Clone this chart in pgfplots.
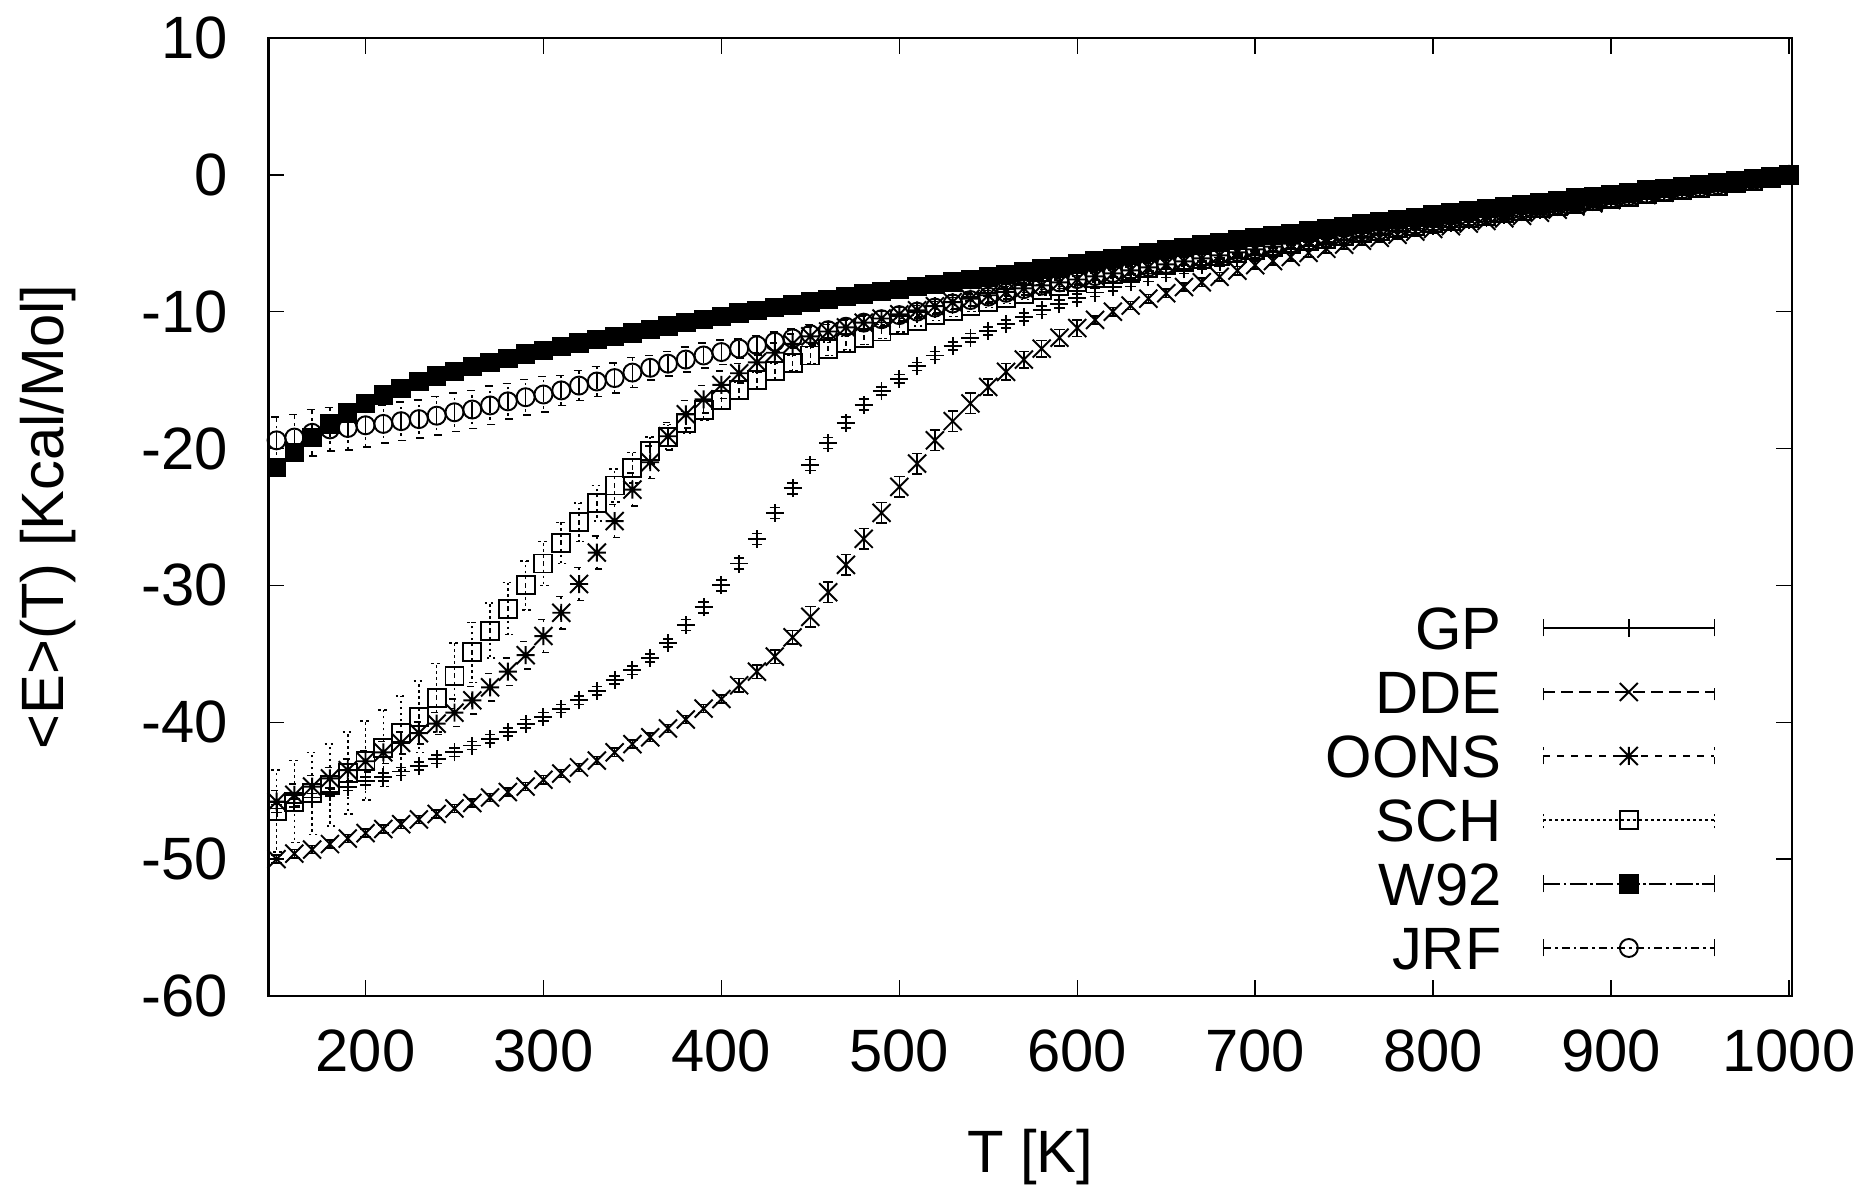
\documentclass[border=0pt]{standalone}
\usepackage{fontspec}
\setmainfont{Liberation Sans}
\usepackage{pgfplots}
\usepackage{pgfplotstable}
\pgfplotsset{compat=1.18}
\usetikzlibrary{calc}
\newcommand\fs{\fontsize{17}{20}\selectfont}
\pgfdeclareplotmark{gplus}{%
  \pgfpathmoveto{\pgfqpoint{-\pgfplotmarksize}{0pt}}\pgfpathlineto{\pgfqpoint{\pgfplotmarksize}{0pt}}%
  \pgfpathmoveto{\pgfqpoint{0pt}{-\pgfplotmarksize}}\pgfpathlineto{\pgfqpoint{0pt}{\pgfplotmarksize}}%
  \pgfusepathqstroke}
\pgfdeclareplotmark{gcross}{%
  \pgfpathmoveto{\pgfqpoint{-\pgfplotmarksize}{-\pgfplotmarksize}}\pgfpathlineto{\pgfqpoint{\pgfplotmarksize}{\pgfplotmarksize}}%
  \pgfpathmoveto{\pgfqpoint{-\pgfplotmarksize}{\pgfplotmarksize}}\pgfpathlineto{\pgfqpoint{\pgfplotmarksize}{-\pgfplotmarksize}}%
  \pgfusepathqstroke}
\pgfdeclareplotmark{gstar}{%
  \pgfpathmoveto{\pgfqpoint{-\pgfplotmarksize}{0pt}}\pgfpathlineto{\pgfqpoint{\pgfplotmarksize}{0pt}}%
  \pgfpathmoveto{\pgfqpoint{0pt}{-\pgfplotmarksize}}\pgfpathlineto{\pgfqpoint{0pt}{\pgfplotmarksize}}%
  \pgfpathmoveto{\pgfqpoint{-\pgfplotmarksize}{-\pgfplotmarksize}}\pgfpathlineto{\pgfqpoint{\pgfplotmarksize}{\pgfplotmarksize}}%
  \pgfpathmoveto{\pgfqpoint{-\pgfplotmarksize}{\pgfplotmarksize}}\pgfpathlineto{\pgfqpoint{\pgfplotmarksize}{-\pgfplotmarksize}}%
  \pgfusepathqstroke}

\pgfplotsset{
  gleg/.style 2 args={legend image code/.code={
    \draw[line width=0.4pt, #1] (0mm,0mm) -- (17.1mm,0mm);
    \draw[line width=0.4pt, #2] (0mm,-0.85mm) -- (0mm,0.85mm) (17.1mm,-0.85mm) -- (17.1mm,0.85mm);
    \draw[##1] plot coordinates {(8.55mm,0mm)};}},
  gser/.style 2 args={black, only marks, mark size=0.9mm, mark options={solid, line width=0.55pt},
    error bars/y dir=both, error bars/y explicit, error bars/error mark=-,
    error bars/error bar style={line width=0.45pt, #1},
    error bars/error mark options={rotate=90, mark size=0.52mm, line width=0.45pt, #2}},
}

\pgfplotstableread{
T E err
150 -46.3 0.3
160 -45.9 0.3
170 -45.5 0.3
180 -45.1 0.3
190 -44.7 0.3
200 -44.3 0.3
210 -44.0 0.3
220 -43.6 0.3
230 -43.2 0.3
240 -42.7 0.3
250 -42.2 0.3
260 -41.7 0.3
270 -41.2 0.3
280 -40.7 0.3
290 -40.1 0.3
300 -39.6 0.3
310 -39.0 0.3
320 -38.4 0.3
330 -37.7 0.3
340 -36.9 0.3
350 -36.2 0.3
360 -35.3 0.3
370 -34.2 0.3
380 -32.9 0.4
390 -31.6 0.4
400 -30.0 0.4
410 -28.4 0.4
420 -26.6 0.4
430 -24.7 0.4
440 -22.9 0.4
450 -21.2 0.4
460 -19.6 0.4
470 -18.1 0.4
480 -16.8 0.4
490 -15.8 0.3
500 -14.9 0.3
510 -14.0 0.3
520 -13.2 0.3
530 -12.5 0.3
540 -11.9 0.3
550 -11.4 0.3
560 -10.9 0.3
570 -10.4 0.3
580 -9.9 0.3
590 -9.45 0.3
600 -9.0 0.3
610 -8.6 0.3
620 -8.2 0.3
630 -7.85 0.3
640 -7.5 0.3
650 -7.2 0.3
660 -6.9 0.3
670 -6.6 0.3
680 -6.35 0.3
690 -6.1 0.3
700 -5.88 0.3
710 -5.65 0.3
720 -5.42 0.3
730 -5.2 0.3
740 -4.98 0.3
750 -4.76 0.3
760 -4.55 0.3
770 -4.34 0.3
780 -4.13 0.3
790 -3.92 0.3
800 -3.72 0.3
810 -3.52 0.3
820 -3.32 0.3
830 -3.12 0.3
840 -2.93 0.3
850 -2.74 0.3
860 -2.55 0.3
870 -2.37 0.3
880 -2.19 0.3
890 -2.01 0.3
900 -1.84 0.3
910 -1.67 0.3
920 -1.5 0.3
930 -1.33 0.3
940 -1.17 0.3
950 -1.0 0.3
960 -0.83 0.3
970 -0.65 0.3
980 -0.45 0.3
990 -0.23 0.3
1000 0 0.3
}\gp

\pgfplotstableread{
T E err
150 -50.0 0.3
160 -49.6 0.3
170 -49.3 0.3
180 -48.9 0.3
190 -48.5 0.3
200 -48.1 0.3
210 -47.8 0.3
220 -47.45 0.3
230 -47.1 0.3
240 -46.7 0.3
250 -46.3 0.3
260 -45.9 0.3
270 -45.5 0.3
280 -45.1 0.3
290 -44.7 0.3
300 -44.2 0.3
310 -43.75 0.3
320 -43.3 0.3
330 -42.8 0.3
340 -42.2 0.3
350 -41.6 0.3
360 -41.1 0.3
370 -40.45 0.3
380 -39.8 0.3
390 -39.0 0.3
400 -38.3 0.3
410 -37.3 0.5
420 -36.3 0.5
430 -35.2 0.5
440 -33.8 0.5
450 -32.3 0.75
460 -30.5 0.75
470 -28.5 0.75
480 -26.6 0.75
490 -24.7 0.75
500 -22.8 0.75
510 -21.1 0.75
520 -19.4 0.75
530 -18.0 0.75
540 -16.7 0.75
550 -15.5 0.6
560 -14.4 0.6
570 -13.5 0.6
580 -12.7 0.6
590 -11.9 0.6
600 -11.2 0.6
610 -10.6 0.3
620 -10.0 0.3
630 -9.55 0.3
640 -9.05 0.3
650 -8.65 0.3
660 -8.2 0.3
670 -7.85 0.3
680 -7.45 0.3
690 -7.0 0.3
700 -6.6 0.3
710 -6.3 0.3
720 -6.0 0.3
730 -5.7 0.3
740 -5.4 0.3
750 -5.1 0.3
760 -4.82 0.3
770 -4.6 0.3
780 -4.38 0.3
790 -4.15 0.3
800 -3.95 0.3
810 -3.75 0.3
820 -3.56 0.3
830 -3.37 0.3
840 -3.18 0.3
850 -3.0 0.3
860 -2.77 0.3
870 -2.54 0.3
880 -2.31 0.3
890 -2.08 0.3
900 -1.85 0.3
910 -1.66 0.3
920 -1.48 0.3
930 -1.31 0.3
940 -1.14 0.3
950 -0.97 0.3
960 -0.79 0.3
970 -0.61 0.3
980 -0.42 0.3
990 -0.21 0.3
1000 0 0.3
}\dde

\pgfplotstableread{
T E err
150 -45.8 0.8
160 -45.3 0.8
170 -44.7 0.8
180 -44.1 0.8
190 -43.5 0.8
200 -42.85 0.8
210 -42.2 0.8
220 -41.5 0.8
230 -40.8 0.8
240 -40.1 0.8
250 -39.3 1.0
260 -38.4 1.0
270 -37.45 1.0
280 -36.3 1.0
290 -35.1 1.0
300 -33.7 1.2
310 -32.0 1.2
320 -29.9 1.2
330 -27.6 1.2
340 -25.3 1.2
350 -23.0 1.2
360 -21.0 1.2
370 -19.1 1.0
380 -17.5 1.0
390 -16.4 1.0
400 -15.35 1.0
410 -14.5 0.7
420 -13.7 0.7
430 -13.0 0.7
440 -12.35 0.7
450 -11.8 0.7
460 -11.45 0.5
470 -11.15 0.5
480 -10.8 0.5
490 -10.5 0.5
500 -10.2 0.5
510 -9.9 0.5
520 -9.6 0.5
530 -9.3 0.5
540 -9.05 0.5
550 -8.8 0.5
560 -8.55 0.3
570 -8.3 0.3
580 -8.08 0.3
590 -7.86 0.3
600 -7.65 0.3
610 -7.42 0.3
620 -7.2 0.3
630 -6.98 0.3
640 -6.76 0.3
650 -6.54 0.3
660 -6.32 0.3
670 -6.1 0.3
680 -5.88 0.3
690 -5.66 0.3
700 -5.45 0.3
710 -5.24 0.3
720 -5.03 0.3
730 -4.83 0.3
740 -4.63 0.3
750 -4.44 0.3
760 -4.25 0.3
770 -4.06 0.3
780 -3.87 0.3
790 -3.68 0.3
800 -3.5 0.3
810 -3.32 0.3
820 -3.14 0.3
830 -2.96 0.3
840 -2.78 0.3
850 -2.6 0.3
860 -2.42 0.3
870 -2.25 0.3
880 -2.08 0.3
890 -1.91 0.3
900 -1.74 0.3
910 -1.57 0.3
920 -1.4 0.3
930 -1.24 0.3
940 -1.08 0.3
950 -0.92 0.3
960 -0.76 0.3
970 -0.6 0.3
980 -0.42 0.3
990 -0.22 0.3
1000 0 0.3
}\oons

\pgfplotstableread{
T E err
150 -46.5 3.0
160 -45.8 3.0
170 -45.2 3.0
180 -44.6 3.0
190 -43.7 3.0
200 -42.8 2.9
210 -41.9 2.8
220 -40.8 2.7
230 -39.6 2.6
240 -38.2 2.5
250 -36.6 2.4
260 -34.9 2.2
270 -33.3 2.0
280 -31.7 1.9
290 -30.0 1.8
300 -28.4 1.6
310 -26.9 1.5
320 -25.4 1.4
330 -24.0 1.3
340 -22.7 1.2
350 -21.4 1.1
360 -20.15 1.0
370 -19.15 0.9
380 -18.1 0.8
390 -17.2 0.75
400 -16.45 0.7
410 -15.75 0.6
420 -15.0 0.6
430 -14.35 0.6
440 -13.75 0.6
450 -13.2 0.6
460 -12.7 0.5
470 -12.3 0.5
480 -11.9 0.5
490 -11.45 0.5
500 -11.0 0.5
510 -10.65 0.4
520 -10.25 0.4
530 -9.95 0.4
540 -9.6 0.4
550 -9.3 0.4
560 -9.0 0.4
570 -8.7 0.4
580 -8.4 0.4
590 -8.1 0.4
600 -7.8 0.4
610 -7.52 0.3
620 -7.26 0.3
630 -7.02 0.3
640 -6.79 0.3
650 -6.57 0.3
660 -6.35 0.3
670 -6.13 0.3
680 -5.91 0.3
690 -5.69 0.3
700 -5.48 0.3
710 -5.27 0.3
720 -5.06 0.3
730 -4.86 0.3
740 -4.66 0.3
750 -4.47 0.3
760 -4.28 0.3
770 -4.09 0.3
780 -3.9 0.3
790 -3.71 0.3
800 -3.53 0.3
810 -3.35 0.3
820 -3.17 0.3
830 -2.99 0.3
840 -2.81 0.3
850 -2.63 0.3
860 -2.45 0.3
870 -2.28 0.3
880 -2.11 0.3
890 -1.94 0.3
900 -1.77 0.3
910 -1.6 0.3
920 -1.43 0.3
930 -1.27 0.3
940 -1.11 0.3
950 -0.95 0.3
960 -0.79 0.3
970 -0.62 0.3
980 -0.44 0.3
990 -0.23 0.3
1000 0 0.3
}\sch

\pgfplotstableread{
T E err
150 -21.4 0.3
160 -20.3 0.3
170 -19.2 0.3
180 -18.2 0.3
190 -17.4 0.3
200 -16.7 0.3
210 -16.1 0.3
220 -15.6 0.3
230 -15.1 0.3
240 -14.7 0.3
250 -14.35 0.3
260 -14.0 0.3
270 -13.7 0.3
280 -13.4 0.3
290 -13.1 0.3
300 -12.85 0.3
310 -12.55 0.3
320 -12.3 0.3
330 -12.05 0.3
340 -11.8 0.3
350 -11.55 0.3
360 -11.3 0.3
370 -11.05 0.3
380 -10.8 0.3
390 -10.55 0.3
400 -10.35 0.3
410 -10.1 0.3
420 -9.9 0.3
430 -9.7 0.3
440 -9.5 0.3
450 -9.3 0.3
460 -9.1 0.3
470 -8.9 0.3
480 -8.72 0.3
490 -8.54 0.3
500 -8.36 0.3
510 -8.18 0.3
520 -8.0 0.3
530 -7.82 0.3
540 -7.64 0.3
550 -7.46 0.3
560 -7.28 0.3
570 -7.08 0.3
580 -6.88 0.3
590 -6.68 0.3
600 -6.48 0.3
610 -6.29 0.3
620 -6.1 0.3
630 -5.88 0.3
640 -5.67 0.3
650 -5.47 0.3
660 -5.3 0.3
670 -5.12 0.3
680 -4.94 0.3
690 -4.77 0.3
700 -4.6 0.3
710 -4.44 0.3
720 -4.27 0.3
730 -4.1 0.3
740 -3.94 0.3
750 -3.77 0.3
760 -3.58 0.3
770 -3.42 0.3
780 -3.26 0.3
790 -3.12 0.3
800 -2.95 0.3
810 -2.75 0.3
820 -2.62 0.3
830 -2.46 0.3
840 -2.35 0.3
850 -2.17 0.3
860 -2.05 0.3
870 -1.87 0.3
880 -1.7 0.3
890 -1.6 0.3
900 -1.42 0.3
910 -1.3 0.3
920 -1.12 0.3
930 -1.0 0.3
940 -0.85 0.3
950 -0.72 0.3
960 -0.56 0.3
970 -0.45 0.3
980 -0.28 0.3
990 -0.13 0.3
1000 0 0.3
}\wn

\pgfplotstableread{
T E err
150 -19.4 1.7
160 -19.2 1.7
170 -18.85 1.7
180 -18.6 1.6
190 -18.5 1.6
200 -18.3 1.6
210 -18.2 1.4
220 -18.0 1.4
230 -17.85 1.4
240 -17.6 1.4
250 -17.35 1.4
260 -17.15 1.4
270 -16.85 1.4
280 -16.55 1.3
290 -16.25 1.3
300 -16.05 1.3
310 -15.75 1.1
320 -15.4 1.1
330 -15.1 1.1
340 -14.85 1.1
350 -14.45 1.1
360 -14.1 0.9
370 -13.8 0.9
380 -13.5 0.9
390 -13.2 0.9
400 -12.95 0.9
410 -12.7 0.7
420 -12.45 0.7
430 -12.2 0.7
440 -11.95 0.7
450 -11.65 0.7
460 -11.35 0.55
470 -11.1 0.55
480 -10.8 0.55
490 -10.55 0.55
500 -10.25 0.55
510 -10.0 0.45
520 -9.7 0.45
530 -9.4 0.45
540 -9.15 0.45
550 -8.9 0.45
560 -8.62 0.45
570 -8.35 0.45
580 -8.1 0.45
590 -7.86 0.45
600 -7.62 0.45
610 -7.4 0.3
620 -7.18 0.3
630 -6.96 0.3
640 -6.74 0.3
650 -6.52 0.3
660 -6.3 0.3
670 -6.08 0.3
680 -5.86 0.3
690 -5.64 0.3
700 -5.43 0.3
710 -5.22 0.3
720 -5.01 0.3
730 -4.81 0.3
740 -4.61 0.3
750 -4.42 0.3
760 -4.23 0.3
770 -4.04 0.3
780 -3.85 0.3
790 -3.66 0.3
800 -3.48 0.3
810 -3.3 0.3
820 -3.12 0.3
830 -2.94 0.3
840 -2.76 0.3
850 -2.58 0.3
860 -2.4 0.3
870 -2.23 0.3
880 -2.06 0.3
890 -1.89 0.3
900 -1.72 0.3
910 -1.55 0.3
920 -1.38 0.3
930 -1.22 0.3
940 -1.06 0.3
950 -0.9 0.3
960 -0.74 0.3
970 -0.58 0.3
980 -0.41 0.3
990 -0.21 0.3
1000 0 0.3
}\jrf

\begin{document}
\fs
\begin{tikzpicture}
\begin{axis}[
  name=ax,
  scale only axis,
  width=152.38mm, height=95.8mm,
  xmin=145.3, xmax=1001.7,
  ymin=-60, ymax=10,
  xtick={200,300,...,1000},
  ytick={-60,-50,...,10},
  minor tick num=0,
  tick align=inside,
  major tick length=1.6mm,
  tick style={line width=0.4pt, black},
  axis line style={line width=0.8pt},
  /pgf/number format/assume math mode=true,
  /pgf/number format/1000 sep={},
  tick label style={font=\fs},
  xticklabel style={anchor=center, yshift=-5.5mm},
  yticklabel style={anchor=east, inner sep=0pt, xshift=-4.0mm},
  xlabel={T [K]},
  ylabel={<E>(T) [Kcal/Mol]},
  xlabel style={at={(axis description cs:0.5,-0.168)}, anchor=center, font=\fs},
  ylabel style={at={(axis description cs:-0.1445,0.5)}, anchor=center, font=\fs},
  legend plot pos=right,
  legend cell align=right,
  legend style={draw=none, fill=none, inner sep=0pt, outer sep=0pt,
    at={(0.9495,0.0167)}, anchor=south east, font=\fs,
    column sep=4.1mm, row sep=0pt,
    nodes={inner sep=0pt, text height=5.35mm, text depth=1.05mm}},
]
\addplot[gser={solid}{solid}, mark=gplus, gleg={solid}{solid}]
  table[x=T, y=E, y error=err] {\gp};
\addlegendentry{GP}
\addplot[gser={dash pattern=on 1.2mm off 0.6mm}{dash pattern=on 1.2mm off 0.6mm}, mark=gcross,
  gleg={dash pattern=on 1.2mm off 0.6mm}{dash pattern=on 1.2mm off 0.6mm}]
  table[x=T, y=E, y error=err] {\dde};
\addlegendentry{DDE}
\addplot[gser={dash pattern=on 0.7mm off 0.7mm}{dash pattern=on 0.7mm off 0.7mm}, mark=gstar,
  gleg={dash pattern=on 0.7mm off 0.7mm}{dash pattern=on 0.7mm off 0.7mm}]
  table[x=T, y=E, y error=err] {\oons};
\addlegendentry{OONS}
\addplot[gser={dash pattern=on 0.25mm off 0.35mm}{dash pattern=on 0.25mm off 0.35mm}, mark=square,
  gleg={dash pattern=on 0.25mm off 0.35mm}{dash pattern=on 0.25mm off 0.35mm}]
  table[x=T, y=E, y error=err] {\sch};
\addlegendentry{SCH}
\addplot[gser={dash pattern=on 1.7mm off 0.35mm on 0.25mm off 0.35mm}{solid}, mark=square*,
  mark options={fill=black},
  gleg={dash pattern=on 1.7mm off 0.35mm on 0.25mm off 0.35mm}{solid}]
  table[x=T, y=E, y error=err] {\wn};
\addlegendentry{W92}
\addplot[gser={dash pattern=on 0.8mm off 0.4mm on 0.25mm off 0.4mm}{dash pattern=on 0.8mm off 0.3mm}, mark=o,
  gleg={dash pattern=on 0.8mm off 0.4mm on 0.25mm off 0.4mm}{solid}]
  table[x=T, y=E, y error=err] {\jrf};
\addlegendentry{JRF}
\end{axis}
\pgfresetboundingbox
\path ($(ax.south west)+(-26.82mm,-19.6mm)$) rectangle ($(ax.north east)+(6.8mm,3.8mm)$);
\end{tikzpicture}
\end{document}
